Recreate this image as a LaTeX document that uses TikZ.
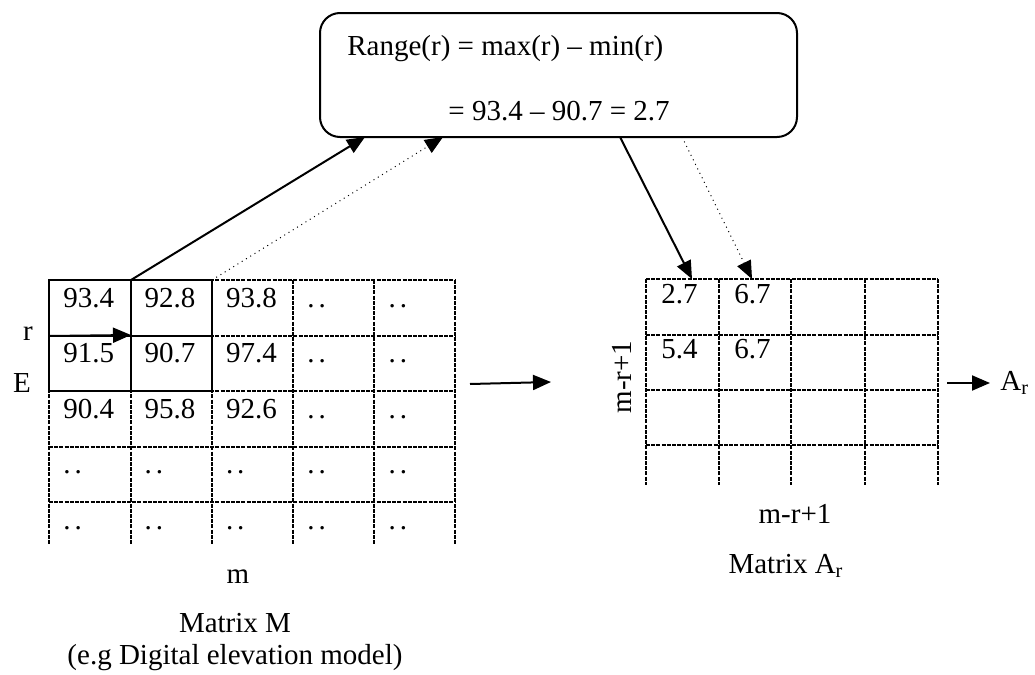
\documentclass[tikz,border=0pt]{standalone}
\usepackage{fontspec}
\setmainfont{Liberation Serif}
\usetikzlibrary{arrows.meta}
\newcommand{\twodots}{.\kern2pt.}

\begin{document}
\begin{tikzpicture}[
    x=0.5pt, y=-0.5pt,
    font=\fontsize{14.5}{17}\selectfont,
    cell/.style={anchor=base west, inner sep=0pt},
    lbl/.style={anchor=base, inner sep=0pt},
    grid/.style={line width=0.9pt, dash pattern=on 2pt off 0.6pt},
    bold/.style={line width=1.1pt},
    arrow/.style={-{Triangle[length=9pt,width=7.5pt]}, line width=1pt},
    dotarrow/.style={-{Triangle[length=9pt,width=7.5pt]}, line width=0.5pt, dotted},
    rangebox/.style={draw, line width=1pt, rounded corners=10pt, minimum width=238.5pt, minimum height=62pt}
]
\useasboundingbox (0,0) rectangle (1035,675);

% Range box
\node[rangebox] (range) at (558.5,75) {};
\node[cell] (rangeA) at (347,55) {Range(r) = max(r) -- min(r)};
\node[cell] (rangeB) at (448,120) {= 93.4 -- 90.7 = 2.7};

% Matrix M
\foreach \y in {280,336,391,447,502} \draw[grid] (49,\y) -- (455,\y);
\foreach \x in {49,131,212,293,374,455} \draw[grid] (\x,280) -- (\x,545);
\draw[bold] (49,280) rectangle (212,391) (131,280) -- (131,391) (49,336) -- (212,336);
\foreach \v [count=\k from 0] in {93.4,92.8,93.8,\twodots,\twodots,
    91.5,90.7,97.4,\twodots,\twodots,
    90.4,95.8,92.6,\twodots,\twodots,
    \twodots,\twodots,\twodots,\twodots,\twodots,
    \twodots,\twodots,\twodots,\twodots,\twodots} {
  \pgfmathtruncatemacro\i{\k/5}
  \pgfmathtruncatemacro\j{mod(\k,5)}
  \node[cell] (M-\i-\j) at ({63+81.3*\j},{307+55.5*\i}) {\v};
}

% Matrix A_r
\foreach \y in {279,335,390,445} \draw[grid] (646,\y) -- (938,\y);
\foreach \x in {646,719,791,865,938} \draw[grid] (\x,279) -- (\x,485);
\node[cell] (A-0-0) at (661,303) {2.7};
\node[cell] (A-0-1) at (734,303) {6.7};
\node[cell] (A-1-0) at (661,358) {5.4};
\node[cell] (A-1-1) at (734,358) {6.7};

% Labels
\node[lbl] (rlab) at (28,340) {r};
\node[lbl] (elab) at (22,392) {E};
\node[lbl] (mlab) at (238,583) {m};
\node[lbl] (mtitle) at (235,632) {Matrix M};
\node[lbl] (mnote) at (235,664) {(e.g Digital elevation model)};
\node[inner sep=0pt, rotate=90] (arows) at (622,377) {m-r+1};
\node[lbl] (acols) at (795,523) {m-r+1};
\node[lbl] (atitle) at (786,573) {Matrix A\textsubscript{r}};
\node[cell] (aout) at (1000,390) {A\textsubscript{r}};

% Arrow ends
\coordinate (rstart) at (49,336);
\coordinate (rend) at (131,335);
\coordinate (winA) at (131,280);
\coordinate (winB) at (212,280);
\coordinate (inA) at (365,137);
\coordinate (inB) at (443,137);
\coordinate (outA) at (620,137);
\coordinate (outB) at (682,137);
\coordinate (cellA) at (692,279);
\coordinate (cellB) at (752,279);
\coordinate (midA) at (470,384);
\coordinate (midB) at (551,382);
\coordinate (finA) at (947,383);
\coordinate (finB) at (990,383);

% Arrows
\draw[arrow] (rstart) -- (rend);
\draw[arrow] (winA) -- (inA);
\draw[dotarrow] (winB) -- (inB);
\draw[arrow] (outA) -- (cellA);
\draw[dotarrow] (outB) -- (cellB);
\draw[arrow] (midA) -- (midB);
\draw[arrow] (finA) -- (finB);

\end{tikzpicture}
\end{document}
